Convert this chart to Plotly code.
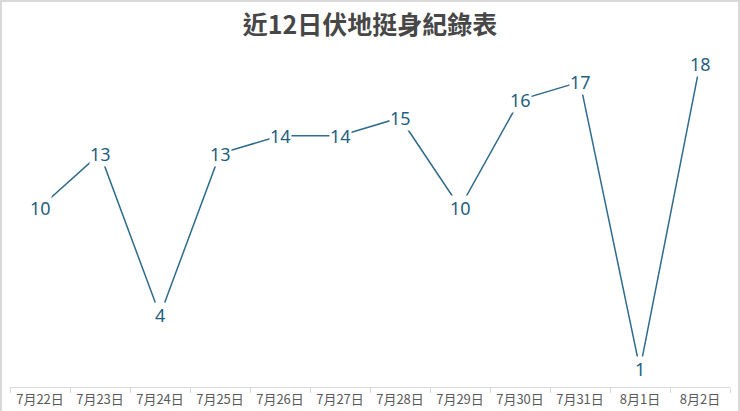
import plotly.graph_objects as go

dates = ['7月22日', '7月23日', '7月24日', '7月25日', '7月26日', '7月27日',
         '7月28日', '7月29日', '7月30日', '7月31日', '8月1日', '8月2日']
pushups = [10, 13, 4, 13, 14, 14, 15, 10, 16, 17, 1, 18]

title_text = '近12日伏地挺身紀錄表'
line_color = '#2f6b8c'
label_color = '#1f5f80'
cjk_font = 'Noto Sans CJK TC'

fig = go.Figure()
fig.add_trace(go.Scatter(
    x=dates, y=pushups, mode='lines',
    line=dict(color=line_color, width=1.5),
    hoverinfo='skip',
))

# data labels sit on the points with a white box, like the spreadsheet chart
for d, v in zip(dates, pushups):
    fig.add_annotation(
        x=d, y=v, text=str(v), showarrow=False,
        font=dict(family='Noto Sans, ' + cjk_font, size=18, color=label_color),
        bgcolor='white', borderpad=0,
    )

W, H = 740, 411
ml, mr, mt, mb = 10, 10, 28, 24
pw, ph = W - ml - mr, H - mt - mb

# light frame around the whole chart
fig.add_shape(
    type='rect', xref='paper', yref='paper',
    x0=-(ml - 1) / pw, x1=1 + (mr - 1) / pw,
    y0=-(mb + 2) / ph, y1=1 + (mt - 1) / ph,
    line=dict(color='#d9d9d9', width=2),
)

fig.update_layout(
    width=W, height=H,
    margin=dict(l=ml, r=mr, t=mt, b=mb),
    paper_bgcolor='white', plot_bgcolor='white',
    showlegend=False,
    title=dict(
        text='<b>' + title_text + '</b>',
        x=0.5, xref='paper', xanchor='center',
        y=1 - 25 / H, yref='container', yanchor='middle',
        font=dict(family=cjk_font, size=25, color='#474747'),
    ),
    xaxis=dict(
        type='category', range=[-0.5, len(dates) - 0.5],
        showline=True, linecolor='#d9d9d9', linewidth=1,
        ticks='outside', tickson='boundaries', ticklen=5, tickcolor='#d9d9d9',
        showgrid=False, zeroline=False, automargin=False,
        tickfont=dict(family=cjk_font, size=13, color='#595959'),
    ),
    yaxis=dict(
        range=[0, 20], visible=False, showgrid=False, zeroline=False,
        automargin=False,
    ),
)

# drop the default page margin so the chart sits at the window corner
fig.write_html('out.html', config={'displayModeBar': False},
               post_script="document.body.style.margin='0';")
